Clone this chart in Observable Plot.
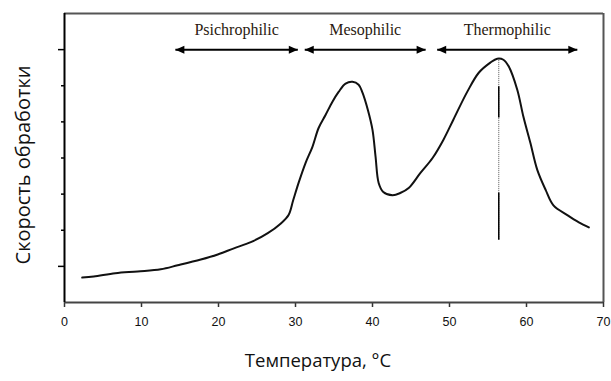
<!DOCTYPE html>
<html>
<head>
<meta charset="utf-8">
<script src="https://cdn.jsdelivr.net/npm/d3@7"></script>
<script src="https://cdn.jsdelivr.net/npm/@observablehq/plot@0.6"></script>
<style>
  html, body { margin: 0; padding: 0; background: #fff; }
  #chart { width: 611px; height: 381px; }
</style>
</head>
<body>
<div id="chart"></div>
<script>
// Curve: temperature (°C) vs processing rate (arbitrary units)
const temperature = [2.3, 3.8, 6.6, 9.5, 12.5, 14.7, 17.7, 19.9, 22.0, 24.2, 26.4, 28.1, 29.1, 29.7, 30.4, 31.3, 32.2, 33.0, 33.9, 34.8, 35.6, 36.5, 37.4, 38.2, 38.7, 39.4, 40.0, 40.4, 40.8, 41.4, 42.6, 43.6, 44.7, 46.2, 47.8, 49.2, 50.5, 52.3, 53.8, 55.3, 56.2, 57.0, 57.7, 58.8, 59.6, 60.5, 61.4, 62.5, 63.5, 65.3, 66.8, 68.1];
const rate = [0.69, 0.72, 0.81, 0.86, 0.92, 1.03, 1.19, 1.33, 1.50, 1.67, 1.92, 2.19, 2.42, 2.83, 3.31, 3.86, 4.31, 4.83, 5.19, 5.56, 5.83, 6.06, 6.11, 6.03, 5.81, 5.33, 4.78, 4.03, 3.31, 3.06, 2.97, 3.03, 3.17, 3.58, 4.00, 4.50, 5.06, 5.83, 6.36, 6.64, 6.75, 6.72, 6.53, 5.89, 5.14, 4.42, 3.67, 3.11, 2.69, 2.42, 2.22, 2.08];

// Temperature ranges
const rangeNames = ["Psichrophilic", "Mesophilic", "Thermophilic"];
const rangeStart = [14.4, 31.2, 48.4];
const rangeEnd = [30.3, 46.9, 66.6];
const rangeLevel = 7;
const rangeLabelLevel = 7.55;

// Optimum marker line
const optimumT = 56.4;
const optimumTop = 6.75;
const optimumSolid = [[5.97, 5.11], [3.03, 1.72]];

const xTicks = [0, 10, 20, 30, 40, 50, 60, 70];
const yMinorTicks = [2, 3, 4, 5, 6];
const yMajorTicks = [1, 7];

const curve = temperature.map((t, i) => ({t, r: rate[i]}));
const ranges = rangeNames.map((name, i) => ({name, x1: rangeStart[i], x2: rangeEnd[i], mid: (rangeStart[i] + rangeEnd[i]) / 2}));
const heads = ranges.flatMap(d => [{x: d.x1, rot: 180}, {x: d.x2, rot: 0}]);
const solidSegs = optimumSolid.map(([a, b]) => ({y1: a, y2: b}));

const arrowHead = {
  draw(context) {
    context.moveTo(0, 0);
    context.lineTo(-9, -4);
    context.lineTo(-9, 4);
    context.closePath();
  }
};

const plot = Plot.plot({
  width: 611,
  height: 381,
  marginLeft: 64,
  marginRight: 8,
  marginTop: 13,
  marginBottom: 79,
  style: {fontFamily: "Liberation Sans, Arial, sans-serif", background: "#fff", color: "#000"},
  x: {domain: [0, 70], label: null},
  y: {domain: [0, 8], label: null},
  marks: [
    Plot.axisX({ticks: xTicks, tickSize: 5, tickPadding: 10, fontSize: 12.5, fill: "#111", stroke: "#333", strokeWidth: 1.5, label: null}),
    Plot.axisY({ticks: yMinorTicks, tickSize: 3, tickFormat: () => "", strokeWidth: 1.5, label: null}),
    Plot.axisY({ticks: yMajorTicks, tickSize: 6, tickFormat: () => "", strokeWidth: 1.5, label: null}),
    Plot.ruleY([8], {stroke: "#555", strokeWidth: 2}),
    Plot.ruleX([70], {stroke: "#555", strokeWidth: 2}),
    Plot.ruleY([0], {stroke: "#444", strokeWidth: 2}),
    Plot.ruleX([0], {stroke: "#000", strokeWidth: 2}),
    // range arrows
    Plot.link(ranges, {x1: "x1", x2: "x2", y1: rangeLevel, y2: rangeLevel, stroke: "#000", strokeWidth: 2}),
    Plot.dot(heads, {x: "x", y: rangeLevel, symbol: arrowHead, rotate: "rot", fill: "#000", stroke: "none", r: 4}),
    Plot.text(ranges, {x: "mid", y: rangeLabelLevel, text: "name", fontFamily: "Liberation Serif, Times New Roman, serif", fontSize: 16, fill: "#2a1a10"}),
    // optimum line
    Plot.ruleX([optimumT], {y1: optimumTop, y2: optimumSolid[1][1], stroke: "#555", strokeWidth: 1, strokeDasharray: "1,1"}),
    Plot.ruleX(solidSegs, {x: optimumT, y1: "y1", y2: "y2", stroke: "#000", strokeWidth: 1.5}),
    // curve
    Plot.line(curve, {x: "t", y: "r", stroke: "#111", strokeWidth: 2, curve: "catmull-rom"})
  ]
});

const svg = d3.select(plot);
svg.append("text")
  .attr("x", 318).attr("y", 362)
  .attr("text-anchor", "middle").attr("dominant-baseline", "middle")
  .attr("font-family", "Open Sans, Noto Sans, sans-serif").attr("font-size", 18.5).attr("fill", "#111")
  .text("Температура, °C");
svg.append("text")
  .attr("transform", "translate(25,165) rotate(-90)")
  .attr("text-anchor", "middle").attr("dominant-baseline", "middle")
  .attr("font-family", "Open Sans, Noto Sans, sans-serif").attr("font-size", 20).attr("fill", "#111")
  .text("Скорость обработки");

document.getElementById("chart").appendChild(plot);
</script>
</body>
</html>
